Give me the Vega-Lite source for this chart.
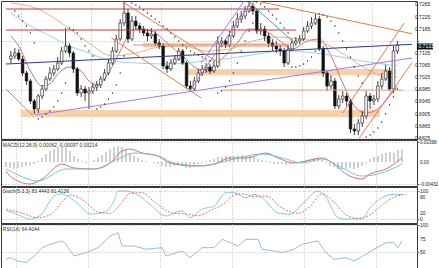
{
"$schema": "https://vega.github.io/schema/vega-lite/v6.json",
"padding": 0,
"spacing": 1,
"bounds": "flush",
"background": "white",
"resolve": {"scale": {"color": "independent", "strokeDash": "independent"}},
"config": {
 "view": {"stroke": "#3a3a3a", "strokeWidth": 1},
 "axis": {"labels": false, "tickSize": 2, "tickColor": "#666", "domain": false, "gridColor": "#b8b8b8", "gridDash": [1, 2], "gridWidth": 1},
 "text": {"font": "Liberation Sans"}
},
"datasets": {
 "candles": [
  {"i":0,"o":0.70866,"h":0.71130,"l":0.70734,"c":0.70965},
  {"i":1,"o":0.70965,"h":0.71229,"l":0.70866,"c":0.71064},
  {"i":2,"o":0.71064,"h":0.71196,"l":0.70800,"c":0.70866},
  {"i":3,"o":0.70866,"h":0.70965,"l":0.70305,"c":0.70404},
  {"i":4,"o":0.70404,"h":0.70470,"l":0.70008,"c":0.70140},
  {"i":5,"o":0.70140,"h":0.70206,"l":0.69381,"c":0.69480},
  {"i":6,"o":0.69480,"h":0.69546,"l":0.69051,"c":0.69216},
  {"i":7,"o":0.69216,"h":0.69711,"l":0.69084,"c":0.69645},
  {"i":8,"o":0.69645,"h":0.70008,"l":0.69546,"c":0.69876},
  {"i":9,"o":0.69876,"h":0.70305,"l":0.69810,"c":0.70206},
  {"i":10,"o":0.70206,"h":0.70602,"l":0.70140,"c":0.70404},
  {"i":11,"o":0.70404,"h":0.70668,"l":0.70305,"c":0.70536},
  {"i":12,"o":0.70536,"h":0.70932,"l":0.70470,"c":0.70734},
  {"i":13,"o":0.70734,"h":0.71262,"l":0.70668,"c":0.71130},
  {"i":14,"o":0.71130,"h":0.71889,"l":0.71064,"c":0.71295},
  {"i":15,"o":0.71295,"h":0.71394,"l":0.70932,"c":0.71064},
  {"i":16,"o":0.71064,"h":0.71130,"l":0.70404,"c":0.70536},
  {"i":17,"o":0.70536,"h":0.70602,"l":0.69645,"c":0.69744},
  {"i":18,"o":0.69744,"h":0.70008,"l":0.69612,"c":0.69876},
  {"i":19,"o":0.69876,"h":0.69975,"l":0.69480,"c":0.69744},
  {"i":20,"o":0.69744,"h":0.69942,"l":0.69216,"c":0.69810},
  {"i":21,"o":0.69810,"h":0.70074,"l":0.69711,"c":0.69942},
  {"i":22,"o":0.69942,"h":0.70140,"l":0.69810,"c":0.70008},
  {"i":23,"o":0.70008,"h":0.70305,"l":0.69909,"c":0.70206},
  {"i":24,"o":0.70206,"h":0.70536,"l":0.70140,"c":0.70404},
  {"i":25,"o":0.70404,"h":0.70866,"l":0.70338,"c":0.70734},
  {"i":26,"o":0.70734,"h":0.71262,"l":0.70668,"c":0.71130},
  {"i":27,"o":0.71130,"h":0.71658,"l":0.71064,"c":0.71526},
  {"i":28,"o":0.71526,"h":0.72186,"l":0.71460,"c":0.72054},
  {"i":29,"o":0.72054,"h":0.72747,"l":0.71955,"c":0.72384},
  {"i":30,"o":0.72384,"h":0.72516,"l":0.71394,"c":0.71526},
  {"i":31,"o":0.71526,"h":0.72285,"l":0.71460,"c":0.72120},
  {"i":32,"o":0.72120,"h":0.72285,"l":0.71856,"c":0.71955},
  {"i":33,"o":0.71955,"h":0.72054,"l":0.71724,"c":0.71856},
  {"i":34,"o":0.71856,"h":0.71955,"l":0.71625,"c":0.71724},
  {"i":35,"o":0.71724,"h":0.71856,"l":0.71460,"c":0.71625},
  {"i":36,"o":0.71625,"h":0.71889,"l":0.71526,"c":0.71691},
  {"i":37,"o":0.71691,"h":0.71790,"l":0.71295,"c":0.71394},
  {"i":38,"o":0.71394,"h":0.71526,"l":0.71196,"c":0.71295},
  {"i":39,"o":0.71295,"h":0.71394,"l":0.70536,"c":0.70635},
  {"i":40,"o":0.70635,"h":0.70800,"l":0.70404,"c":0.70536},
  {"i":41,"o":0.70536,"h":0.70866,"l":0.70470,"c":0.70734},
  {"i":42,"o":0.70734,"h":0.70998,"l":0.70668,"c":0.70866},
  {"i":43,"o":0.70866,"h":0.71229,"l":0.70800,"c":0.71130},
  {"i":44,"o":0.71130,"h":0.71196,"l":0.70668,"c":0.70734},
  {"i":45,"o":0.70734,"h":0.70800,"l":0.69876,"c":0.69975},
  {"i":46,"o":0.69975,"h":0.70140,"l":0.69777,"c":0.69876},
  {"i":47,"o":0.69876,"h":0.70272,"l":0.69810,"c":0.70140},
  {"i":48,"o":0.70140,"h":0.70536,"l":0.70074,"c":0.70404},
  {"i":49,"o":0.70404,"h":0.70668,"l":0.70305,"c":0.70536},
  {"i":50,"o":0.70536,"h":0.70734,"l":0.70404,"c":0.70602},
  {"i":51,"o":0.70602,"h":0.70701,"l":0.70371,"c":0.70470},
  {"i":52,"o":0.70470,"h":0.70800,"l":0.70404,"c":0.70635},
  {"i":53,"o":0.70635,"h":0.71625,"l":0.70569,"c":0.71394},
  {"i":54,"o":0.71394,"h":0.71592,"l":0.71262,"c":0.71460},
  {"i":55,"o":0.71460,"h":0.71526,"l":0.71229,"c":0.71328},
  {"i":56,"o":0.71328,"h":0.71790,"l":0.71262,"c":0.71625},
  {"i":57,"o":0.71625,"h":0.72120,"l":0.71559,"c":0.71955},
  {"i":58,"o":0.71955,"h":0.72384,"l":0.71889,"c":0.72186},
  {"i":59,"o":0.72186,"h":0.72450,"l":0.72054,"c":0.72285},
  {"i":60,"o":0.72285,"h":0.72615,"l":0.72186,"c":0.72450},
  {"i":61,"o":0.72450,"h":0.72747,"l":0.72384,"c":0.72615},
  {"i":62,"o":0.72615,"h":0.72714,"l":0.72318,"c":0.72450},
  {"i":63,"o":0.72450,"h":0.72516,"l":0.71691,"c":0.71790},
  {"i":64,"o":0.71790,"h":0.72054,"l":0.71658,"c":0.71856},
  {"i":65,"o":0.71856,"h":0.71955,"l":0.71460,"c":0.71625},
  {"i":66,"o":0.71625,"h":0.71724,"l":0.71262,"c":0.71394},
  {"i":67,"o":0.71394,"h":0.71526,"l":0.71130,"c":0.71295},
  {"i":68,"o":0.71295,"h":0.71460,"l":0.71064,"c":0.71196},
  {"i":69,"o":0.71196,"h":0.71328,"l":0.70965,"c":0.71130},
  {"i":70,"o":0.71130,"h":0.71229,"l":0.70602,"c":0.70734},
  {"i":71,"o":0.70734,"h":0.71328,"l":0.70668,"c":0.71196},
  {"i":72,"o":0.71196,"h":0.71526,"l":0.71130,"c":0.71394},
  {"i":73,"o":0.71394,"h":0.71592,"l":0.71295,"c":0.71460},
  {"i":74,"o":0.71460,"h":0.71658,"l":0.71361,"c":0.71526},
  {"i":75,"o":0.71526,"h":0.71922,"l":0.71460,"c":0.71790},
  {"i":76,"o":0.71790,"h":0.72120,"l":0.71724,"c":0.71955},
  {"i":77,"o":0.71955,"h":0.72252,"l":0.71856,"c":0.72054},
  {"i":78,"o":0.72054,"h":0.72351,"l":0.71988,"c":0.72186},
  {"i":79,"o":0.72186,"h":0.72285,"l":0.71130,"c":0.71196},
  {"i":80,"o":0.71196,"h":0.71295,"l":0.70272,"c":0.70404},
  {"i":81,"o":0.70404,"h":0.70470,"l":0.69810,"c":0.69975},
  {"i":82,"o":0.69975,"h":0.70338,"l":0.69876,"c":0.70140},
  {"i":83,"o":0.70140,"h":0.70239,"l":0.69216,"c":0.69315},
  {"i":84,"o":0.69315,"h":0.69678,"l":0.69216,"c":0.69546},
  {"i":85,"o":0.69546,"h":0.69810,"l":0.69414,"c":0.69645},
  {"i":86,"o":0.69645,"h":0.69744,"l":0.69315,"c":0.69480},
  {"i":87,"o":0.69480,"h":0.69546,"l":0.68424,"c":0.68556},
  {"i":88,"o":0.68556,"h":0.68721,"l":0.68358,"c":0.68490},
  {"i":89,"o":0.68490,"h":0.68886,"l":0.68358,"c":0.68754},
  {"i":90,"o":0.68754,"h":0.69150,"l":0.68622,"c":0.68985},
  {"i":91,"o":0.68985,"h":0.69810,"l":0.68886,"c":0.69645},
  {"i":92,"o":0.69645,"h":0.69744,"l":0.69216,"c":0.69480},
  {"i":93,"o":0.69480,"h":0.69678,"l":0.69348,"c":0.69546},
  {"i":94,"o":0.69546,"h":0.70140,"l":0.69447,"c":0.69975},
  {"i":95,"o":0.69975,"h":0.70404,"l":0.69876,"c":0.70206},
  {"i":96,"o":0.70206,"h":0.70668,"l":0.70140,"c":0.70470},
  {"i":97,"o":0.70470,"h":0.70602,"l":0.69810,"c":0.69876},
  {"i":98,"o":0.69876,"h":0.71295,"l":0.69744,"c":0.71130},
  {"i":99,"o":0.71130,"h":0.71460,"l":0.71031,"c":0.71328}
 ],
 "ma": [
  {"s":"fast","i":0,"p":0.71625},{"s":"fast","i":2,"p":0.71295},{"s":"fast","i":5,"p":0.70470},{"s":"fast","i":8,"p":0.69975},{"s":"fast","i":10,"p":0.70041},{"s":"fast","i":12,"p":0.70371},{"s":"fast","i":15,"p":0.70602},{"s":"fast","i":18,"p":0.70470},{"s":"fast","i":20,"p":0.70140},{"s":"fast","i":22,"p":0.70008},{"s":"fast","i":25,"p":0.70404},{"s":"fast","i":28,"p":0.71130},{"s":"fast","i":30,"p":0.71625},{"s":"fast","i":32,"p":0.71856},{"s":"fast","i":36,"p":0.71790},{"s":"fast","i":40,"p":0.71394},{"s":"fast","i":44,"p":0.70965},{"s":"fast","i":48,"p":0.70536},{"s":"fast","i":51,"p":0.70470},{"s":"fast","i":54,"p":0.70866},{"s":"fast","i":58,"p":0.71394},{"s":"fast","i":61,"p":0.71856},{"s":"fast","i":65,"p":0.71790},{"s":"fast","i":69,"p":0.71460},{"s":"fast","i":72,"p":0.71196},{"s":"fast","i":76,"p":0.71460},{"s":"fast","i":79,"p":0.71526},{"s":"fast","i":82,"p":0.70965},{"s":"fast","i":85,"p":0.70074},{"s":"fast","i":88,"p":0.69315},{"s":"fast","i":91,"p":0.69084},{"s":"fast","i":94,"p":0.69216},{"s":"fast","i":97,"p":0.69645},{"s":"fast","i":99,"p":0.69975},
  {"s":"mid","i":0,"p":0.72714},{"s":"mid","i":7,"p":0.72516},{"s":"mid","i":14,"p":0.71955},{"s":"mid","i":20,"p":0.71394},{"s":"mid","i":26,"p":0.70965},{"s":"mid","i":32,"p":0.71064},{"s":"mid","i":38,"p":0.71262},{"s":"mid","i":44,"p":0.71295},{"s":"mid","i":50,"p":0.71130},{"s":"mid","i":56,"p":0.71196},{"s":"mid","i":62,"p":0.71460},{"s":"mid","i":68,"p":0.71592},{"s":"mid","i":74,"p":0.71526},{"s":"mid","i":80,"p":0.71394},{"s":"mid","i":86,"p":0.70965},{"s":"mid","i":92,"p":0.70470},{"s":"mid","i":96,"p":0.70272},{"s":"mid","i":99,"p":0.70272},
  {"s":"slow","i":0,"p":0.72384},{"s":"slow","i":5,"p":0.71955},{"s":"slow","i":10,"p":0.71625},{"s":"slow","i":15,"p":0.71295},{"s":"slow","i":20,"p":0.71064},{"s":"slow","i":26,"p":0.70800},{"s":"slow","i":32,"p":0.70734},{"s":"slow","i":40,"p":0.70701},{"s":"slow","i":50,"p":0.70800},{"s":"slow","i":60,"p":0.70965},{"s":"slow","i":70,"p":0.71130},{"s":"slow","i":80,"p":0.71031},{"s":"slow","i":90,"p":0.70800},{"s":"slow","i":99,"p":0.70635}
 ],
 "sar": [
  {"i":1,"p":0.72450},{"i":2,"p":0.72285},{"i":3,"p":0.72120},{"i":4,"p":0.71955},{"i":5,"p":0.71724},{"i":6,"p":0.71394},
  {"i":7,"p":0.68886},{"i":8,"p":0.68952},{"i":9,"p":0.69051},{"i":10,"p":0.69150},{"i":11,"p":0.69282},{"i":12,"p":0.69480},{"i":13,"p":0.69744},{"i":14,"p":0.70074},
  {"i":15,"p":0.71889},{"i":16,"p":0.71823},{"i":17,"p":0.71724},{"i":18,"p":0.71526},{"i":19,"p":0.71295},{"i":20,"p":0.71130},{"i":21,"p":0.70965},
  {"i":22,"p":0.69216},{"i":23,"p":0.69282},{"i":24,"p":0.69381},{"i":25,"p":0.69546},{"i":26,"p":0.69744},{"i":27,"p":0.70008},{"i":28,"p":0.70404},{"i":29,"p":0.70965},
  {"i":31,"p":0.72714},{"i":32,"p":0.72648},{"i":33,"p":0.72582},{"i":34,"p":0.72483},{"i":35,"p":0.72384},{"i":36,"p":0.72285},{"i":37,"p":0.72186},{"i":38,"p":0.72087},{"i":39,"p":0.71955},{"i":40,"p":0.71856},{"i":41,"p":0.71724},{"i":42,"p":0.71592},{"i":43,"p":0.71460},{"i":44,"p":0.71328},{"i":45,"p":0.71229},{"i":46,"p":0.71130},{"i":47,"p":0.71064},{"i":48,"p":0.70998},{"i":49,"p":0.70932},{"i":50,"p":0.70866},{"i":51,"p":0.70800},
  {"i":53,"p":0.69744},{"i":54,"p":0.69810},{"i":55,"p":0.69942},{"i":56,"p":0.70140},{"i":57,"p":0.70404},{"i":58,"p":0.70734},{"i":59,"p":0.71130},{"i":60,"p":0.71460},{"i":61,"p":0.71790},{"i":62,"p":0.72054},
  {"i":63,"p":0.72747},{"i":64,"p":0.72681},{"i":65,"p":0.72582},{"i":66,"p":0.72450},{"i":67,"p":0.72318},{"i":68,"p":0.72186},{"i":69,"p":0.72054},{"i":70,"p":0.71889},{"i":71,"p":0.71724},
  {"i":72,"p":0.70602},{"i":73,"p":0.70602},{"i":74,"p":0.70635},{"i":75,"p":0.70701},{"i":76,"p":0.70800},{"i":77,"p":0.70932},{"i":78,"p":0.71130},
  {"i":79,"p":0.72351},{"i":80,"p":0.72318},{"i":81,"p":0.72252},{"i":82,"p":0.72120},{"i":83,"p":0.71955},{"i":84,"p":0.71724},{"i":85,"p":0.71460},{"i":86,"p":0.71196},{"i":87,"p":0.70932},{"i":88,"p":0.70602},{"i":89,"p":0.70305},{"i":90,"p":0.70074},
  {"i":91,"p":0.68292},{"i":92,"p":0.68358},{"i":93,"p":0.68457},{"i":94,"p":0.68589},{"i":95,"p":0.68787},{"i":96,"p":0.69051},{"i":97,"p":0.69348},{"i":98,"p":0.69612},{"i":99,"p":0.69876}
 ],
 "lines": [
  {"k":"red","i":-1.25,"p":0.72516,"i2":68.75,"p2":0.72516},
  {"k":"red","i":-1.25,"p":0.71823,"i2":73,"p2":0.71823},
  {"k":"pink","i":31.25,"p":0.71328,"i2":71.25,"p2":0.71328},
  {"k":"blue","i":-1.25,"p":0.70701,"i2":102.75,"p2":0.71350},
  {"k":"violet","i":6.25,"p":0.69018,"i2":102.75,"p2":0.70900},
  {"k":"violet","i":45.75,"p":0.69810,"i2":61.75,"p2":0.72780},
  {"k":"violet","i":48.75,"p":0.70734,"i2":59.75,"p2":0.72780},
  {"k":"teal","i":61.25,"p":0.72714,"i2":73,"p2":0.71361},
  {"k":"orange","i":28.25,"p":0.72780,"i2":53.75,"p2":0.70701},
  {"k":"orange","i":25.75,"p":0.71559,"i2":48.75,"p2":0.69579},
  {"k":"orange","i":63,"p":0.72780,"i2":102.75,"p2":0.71700},
  {"k":"orange","i":85,"p":0.69084,"i2":100.75,"p2":0.72054},
  {"k":"orange","i":89.25,"p":0.68259,"i2":102.75,"p2":0.70750},
  {"k":"orange","i":-1.25,"p":0.69876,"i2":5.75,"p2":0.68985},
  {"k":"salmon","i":53.75,"p":0.69843,"i2":100.5,"p2":0.69843}
 ],
 "zones": [
  {"i":2.5,"i2":94.5,"p":0.69183,"p2":0.68952},
  {"i":45,"i2":98.75,"p":0.70536,"p2":0.70338},
  {"i":33.75,"i2":71.25,"p":0.71394,"p2":0.71262}
 ],
 "hist": [
  {"i":0,"h":-0.0010},{"i":1,"h":-0.0012},{"i":2,"h":-0.0014},{"i":3,"h":-0.0012},{"i":4,"h":-0.0010},{"i":5,"h":-0.0008},{"i":6,"h":-0.0006},{"i":7,"h":-0.0004},{"i":8,"h":0.0002},{"i":9,"h":0.0008},
  {"i":10,"h":0.0016},{"i":11,"h":0.0022},{"i":12,"h":0.0026},{"i":13,"h":0.0030},{"i":14,"h":0.0030},{"i":15,"h":0.0028},{"i":16,"h":0.0022},{"i":17,"h":0.0012},{"i":18,"h":0.0006},{"i":19,"h":0.0002},
  {"i":20,"h":-0.0002},{"i":21,"h":0},{"i":22,"h":0.0004},{"i":23,"h":0.0008},{"i":24,"h":0.0014},{"i":25,"h":0.0020},{"i":26,"h":0.0026},{"i":27,"h":0.0030},{"i":28,"h":0.0032},{"i":29,"h":0.0030},
  {"i":30,"h":0.0024},{"i":31,"h":0.0018},{"i":32,"h":0.0012},{"i":33,"h":0.0008},{"i":34,"h":0.0004},{"i":35,"h":0.0002},{"i":36,"h":0},{"i":37,"h":-0.0002},{"i":38,"h":-0.0004},{"i":39,"h":-0.0008},
  {"i":40,"h":-0.0010},{"i":41,"h":-0.0010},{"i":42,"h":-0.0008},{"i":43,"h":-0.0006},{"i":44,"h":-0.0008},{"i":45,"h":-0.0012},{"i":46,"h":-0.0012},{"i":47,"h":-0.0008},{"i":48,"h":-0.0004},{"i":49,"h":-0.0002},
  {"i":50,"h":0.0002},{"i":51,"h":0.0004},{"i":52,"h":0.0006},{"i":53,"h":0.0010},{"i":54,"h":0.0010},{"i":55,"h":0.0012},{"i":56,"h":0.0012},{"i":57,"h":0.0012},{"i":58,"h":0.0014},{"i":59,"h":0.0014},
  {"i":60,"h":0.0012},{"i":61,"h":0.0012},{"i":62,"h":0.0010},{"i":63,"h":0.0006},{"i":64,"h":0.0004},{"i":65,"h":0.0002},{"i":66,"h":-0.0002},{"i":67,"h":-0.0004},{"i":68,"h":-0.0004},{"i":69,"h":-0.0004},
  {"i":70,"h":-0.0006},{"i":71,"h":-0.0004},{"i":72,"h":-0.0002},{"i":73,"h":0},{"i":74,"h":0.0002},{"i":75,"h":0.0004},{"i":76,"h":0.0006},{"i":77,"h":0.0008},{"i":78,"h":0.0008},{"i":79,"h":0.0004},
  {"i":80,"h":-0.0002},{"i":81,"h":-0.0008},{"i":82,"h":-0.0010},{"i":83,"h":-0.0014},{"i":84,"h":-0.0014},{"i":85,"h":-0.0014},{"i":86,"h":-0.0012},{"i":87,"h":-0.0014},{"i":88,"h":-0.0012},{"i":89,"h":-0.0008},
  {"i":90,"h":-0.0002},{"i":91,"h":0.0006},{"i":92,"h":0.0010},{"i":93,"h":0.0012},{"i":94,"h":0.0016},{"i":95,"h":0.0018},{"i":96,"h":0.0020},{"i":97,"h":0.0018},{"i":98,"h":0.0024},{"i":99,"h":0.0026}
 ],
 "macd": [
  {"s":"macd","i":0,"v":-0.0018},{"s":"macd","i":1,"v":-0.0028},{"s":"macd","i":6,"v":-0.0044},{"s":"macd","i":9,"v":-0.0034},{"s":"macd","i":14,"v":-0.0004},{"s":"macd","i":17,"v":-0.0012},{"s":"macd","i":22,"v":-0.0014},{"s":"macd","i":26,"v":-0.0002},{"s":"macd","i":29,"v":0.0022},{"s":"macd","i":31,"v":0.0026},{"s":"macd","i":34,"v":0.0018},{"s":"macd","i":38,"v":0.0012},{"s":"macd","i":41,"v":-0.0002},{"s":"macd","i":47,"v":-0.0008},{"s":"macd","i":52,"v":-0.0004},{"s":"macd","i":56,"v":0.0008},{"s":"macd","i":60,"v":0.0008},{"s":"macd","i":65,"v":0.0018},{"s":"macd","i":68,"v":0.0008},{"s":"macd","i":72,"v":-0.0002},{"s":"macd","i":75,"v":0.0002},{"s":"macd","i":79,"v":0.0008},{"s":"macd","i":82,"v":-0.0004},{"s":"macd","i":85,"v":-0.0024},{"s":"macd","i":89,"v":-0.0034},{"s":"macd","i":91,"v":-0.0024},{"s":"macd","i":95,"v":-0.0014},{"s":"macd","i":99,"v":0.0008},
  {"s":"signal","i":0,"v":-0.0014},{"s":"signal","i":2,"v":-0.0022},{"s":"signal","i":8,"v":-0.0038},{"s":"signal","i":15,"v":-0.0014},{"s":"signal","i":22,"v":-0.0014},{"s":"signal","i":28,"v":0.0006},{"s":"signal","i":32,"v":0.0018},{"s":"signal","i":38,"v":0.0012},{"s":"signal","i":42,"v":-0.0002},{"s":"signal","i":49,"v":-0.0008},{"s":"signal","i":57,"v":0.0006},{"s":"signal","i":64,"v":0.0016},{"s":"signal","i":70,"v":0.0006},{"s":"signal","i":74,"v":-0.0002},{"s":"signal","i":79,"v":0.0006},{"s":"signal","i":84,"v":-0.0012},{"s":"signal","i":89,"v":-0.0028},{"s":"signal","i":93,"v":-0.0024},{"s":"signal","i":99,"v":-0.0004}
 ],
 "stoch": [
  {"s":"K","i":0,"v":29},{"s":"K","i":2,"v":22},{"s":"K","i":6,"v":0},{"s":"K","i":9,"v":18},{"s":"K","i":11,"v":64},{"s":"K","i":13,"v":89},{"s":"K","i":14,"v":89},{"s":"K","i":18,"v":54},{"s":"K","i":21,"v":18},{"s":"K","i":24,"v":22},{"s":"K","i":27,"v":64},{"s":"K","i":28,"v":100},{"s":"K","i":30,"v":100},{"s":"K","i":34,"v":76},{"s":"K","i":36,"v":52},{"s":"K","i":40,"v":11},{"s":"K","i":44,"v":29},{"s":"K","i":46,"v":5},{"s":"K","i":49,"v":35},{"s":"K","i":52,"v":46},{"s":"K","i":55,"v":94},{"s":"K","i":57,"v":94},{"s":"K","i":60,"v":76},{"s":"K","i":62,"v":88},{"s":"K","i":64,"v":76},{"s":"K","i":68,"v":22},{"s":"K","i":71,"v":17},{"s":"K","i":74,"v":52},{"s":"K","i":78,"v":100},{"s":"K","i":80,"v":76},{"s":"K","i":83,"v":5},{"s":"K","i":85,"v":0},{"s":"K","i":89,"v":2},{"s":"K","i":91,"v":40},{"s":"K","i":94,"v":76},{"s":"K","i":97,"v":88},{"s":"K","i":99,"v":88},
  {"s":"D","i":0,"v":35},{"s":"D","i":3,"v":26},{"s":"D","i":8,"v":5},{"s":"D","i":11,"v":15},{"s":"D","i":14,"v":60},{"s":"D","i":16,"v":86},{"s":"D","i":19,"v":70},{"s":"D","i":23,"v":25},{"s":"D","i":26,"v":20},{"s":"D","i":29,"v":60},{"s":"D","i":31,"v":92},{"s":"D","i":34,"v":94},{"s":"D","i":37,"v":62},{"s":"D","i":42,"v":20},{"s":"D","i":45,"v":18},{"s":"D","i":48,"v":12},{"s":"D","i":51,"v":30},{"s":"D","i":54,"v":50},{"s":"D","i":57,"v":85},{"s":"D","i":59,"v":90},{"s":"D","i":62,"v":80},{"s":"D","i":65,"v":82},{"s":"D","i":69,"v":40},{"s":"D","i":73,"v":20},{"s":"D","i":76,"v":45},{"s":"D","i":79,"v":90},{"s":"D","i":82,"v":60},{"s":"D","i":85,"v":15},{"s":"D","i":88,"v":2},{"s":"D","i":91,"v":15},{"s":"D","i":94,"v":50},{"s":"D","i":97,"v":78},{"s":"D","i":100,"v":88}
 ],
 "rsi": [
  {"i":0,"v":37.4},{"i":1,"v":40.3},{"i":3,"v":34.3},{"i":5,"v":31.2},{"i":7,"v":43.4},{"i":9,"v":58.6},{"i":11,"v":64.8},{"i":14,"v":70.8},{"i":15,"v":64.8},{"i":17,"v":43.4},{"i":20,"v":49.4},{"i":23,"v":58.6},{"i":26,"v":79.9},{"i":28,"v":85.9},{"i":29,"v":61.7},{"i":32,"v":61.7},{"i":35,"v":55.7},{"i":39,"v":58.6},{"i":40,"v":43.4},{"i":44,"v":52.5},{"i":46,"v":40.3},{"i":49,"v":58.6},{"i":52,"v":58.6},{"i":54,"v":73.9},{"i":56,"v":67.7},{"i":58,"v":61.7},{"i":60,"v":73.9},{"i":63,"v":73.9},{"i":64,"v":55.7},{"i":67,"v":52.5},{"i":69,"v":49.4},{"i":72,"v":55.7},{"i":74,"v":64.8},{"i":78,"v":70.8},{"i":80,"v":49.4},{"i":82,"v":37.4},{"i":85,"v":40.3},{"i":87,"v":34.3},{"i":90,"v":46.5},{"i":92,"v":55.7},{"i":95,"v":67.7},{"i":97,"v":67.7},{"i":98,"v":58.6},{"i":99,"v":70.8}
 ]
},
"vconcat": [
 {
  "width": 416, "height": 138,
  "resolve": {"scale": {"color": "independent"}},
  "layer": [
   {"data": {"name": "zones"}, "mark": {"type": "rect", "fill": "#f8cba3", "opacity": 0.9},
    "encoding": {
     "x": {"field": "i", "type": "quantitative", "title": null, "scale": {"domain": [-1.25, 102.75], "nice": false, "zero": false}, "axis": {"values": [2.5,7,11.5,16,20.5,25,29.5,34,38.5,43,47.5,52,56.5,61,65.5,70,74.5,79,83.5,88,92.5,97,101.5], "labels": false, "ticks": false, "grid": true, "title": null}},
     "x2": {"field": "i2"},
     "y": {"field": "p", "type": "quantitative", "title": null, "scale": {"domain": [0.68226, 0.7278], "nice": false, "zero": false}, "axis": {"orient": "right", "values": [0.7265,0.7225,0.7185,0.7145,0.7105,0.7065,0.7025,0.6985,0.6945,0.6905,0.6865,0.6825], "labels": false, "grid": true, "title": null}},
     "y2": {"field": "p2"}
    }},
   {"data": {"name": "ma"}, "mark": {"type": "line", "strokeWidth": 0.9, "interpolate": "monotone"},
    "encoding": {
     "x": {"field": "i", "type": "quantitative", "title": null, "scale": {"domain": [-1.25, 102.75], "nice": false, "zero": false}},
     "y": {"field": "p", "type": "quantitative", "title": null, "scale": {"domain": [0.68226, 0.7278], "nice": false, "zero": false}},
     "color": {"field": "s", "type": "nominal", "scale": {"domain": ["fast", "mid", "slow"], "range": ["#c8606a", "#d9aa7c", "#8fd0dd"]}, "legend": null}
    }},
   {"data": {"name": "candles"}, "mark": {"type": "rule", "color": "#111", "strokeWidth": 0.8},
    "encoding": {
     "x": {"field": "i", "type": "quantitative", "title": null, "scale": {"domain": [-1.25, 102.75], "nice": false, "zero": false}},
     "y": {"field": "l", "type": "quantitative", "title": null, "scale": {"domain": [0.68226, 0.7278], "nice": false, "zero": false}},
     "y2": {"field": "h"}
    }},
   {"data": {"name": "candles"}, "mark": {"type": "bar", "size": 2.6, "stroke": "#111", "strokeWidth": 0.6},
    "encoding": {
     "x": {"field": "i", "type": "quantitative", "title": null, "scale": {"domain": [-1.25, 102.75], "nice": false, "zero": false}},
     "y": {"field": "o", "type": "quantitative", "title": null, "scale": {"domain": [0.68226, 0.7278], "nice": false, "zero": false}},
     "y2": {"field": "c"},
     "fill": {"condition": {"test": "datum.c < datum.o", "value": "#111"}, "value": "white"}
    }},
   {"data": {"name": "lines"}, "mark": {"type": "rule", "strokeWidth": 1},
    "encoding": {
     "x": {"field": "i", "type": "quantitative", "title": null, "scale": {"domain": [-1.25, 102.75], "nice": false, "zero": false}},
     "x2": {"field": "i2"},
     "y": {"field": "p", "type": "quantitative", "title": null, "scale": {"domain": [0.68226, 0.7278], "nice": false, "zero": false}},
     "y2": {"field": "p2"},
     "color": {"field": "k", "type": "nominal", "scale": {"domain": ["red", "pink", "blue", "violet", "teal", "orange", "salmon"], "range": ["#c23b3b", "#e48a8a", "#2b3990", "#a77bd8", "#2ab3b0", "#de7d4f", "#e0a080"]}, "legend": null}
    }},
   {"data": {"name": "sar"}, "mark": {"type": "circle", "size": 2, "color": "#222", "opacity": 1},
    "encoding": {
     "x": {"field": "i", "type": "quantitative", "title": null, "scale": {"domain": [-1.25, 102.75], "nice": false, "zero": false}},
     "y": {"field": "p", "type": "quantitative", "title": null, "scale": {"domain": [0.68226, 0.7278], "nice": false, "zero": false}}
    }},
   {"data": {"values": [{"p": 0.7265, "t": "0.7265"}, {"p": 0.7225, "t": "0.7225"}, {"p": 0.7185, "t": "0.7185"}, {"p": 0.7105, "t": "0.7105"}, {"p": 0.7065, "t": "0.7065"}, {"p": 0.7025, "t": "0.7025"}, {"p": 0.6985, "t": "0.6985"}, {"p": 0.6945, "t": "0.6945"}, {"p": 0.6905, "t": "0.6905"}, {"p": 0.6865, "t": "0.6865"}, {"p": 0.6825, "t": "0.6825"}]},
    "mark": {"type": "text", "font": "Liberation Sans", "fontSize": 5, "color": "#222", "align": "left", "baseline": "middle", "dy": -0.5},
    "encoding": {
     "x": {"datum": 103.5, "type": "quantitative", "scale": {"domain": [-1.25, 102.75], "nice": false, "zero": false}},
     "y": {"field": "p", "type": "quantitative", "title": null, "scale": {"domain": [0.68226, 0.7278], "nice": false, "zero": false}},
     "text": {"field": "t"}
    }},
   {"data": {"values": [{"i": 104.0, "i2": 108.1, "p": 0.71378, "p2": 0.7118}]}, "mark": {"type": "rect", "fill": "#111"},
    "encoding": {
     "x": {"field": "i", "type": "quantitative", "title": null, "scale": {"domain": [-1.25, 102.75], "nice": false, "zero": false}},
     "x2": {"field": "i2"},
     "y": {"field": "p", "type": "quantitative", "title": null, "scale": {"domain": [0.68226, 0.7278], "nice": false, "zero": false}},
     "y2": {"field": "p2"}
    }},
   {"data": {"values": [{"i": 104.4, "p": 0.71279, "t": "0.7133"}]}, "mark": {"type": "text", "fontSize": 5, "color": "white", "align": "left", "baseline": "middle"},
    "encoding": {
     "x": {"field": "i", "type": "quantitative", "title": null, "scale": {"domain": [-1.25, 102.75], "nice": false, "zero": false}},
     "y": {"field": "p", "type": "quantitative", "title": null, "scale": {"domain": [0.68226, 0.7278], "nice": false, "zero": false}},
     "text": {"field": "t"}
    }}
  ]
 },
 {
  "width": 416, "height": 46,
  "layer": [
   {"data": {"name": "hist"}, "mark": {"type": "rule", "color": "#bdbdbd", "strokeWidth": 1.4},
    "encoding": {
     "x": {"field": "i", "type": "quantitative", "title": null, "scale": {"domain": [-1.25, 102.75], "nice": false, "zero": false}, "axis": {"values": [2.5,7,11.5,16,20.5,25,29.5,34,38.5,43,47.5,52,56.5,61,65.5,70,74.5,79,83.5,88,92.5,97,101.5], "labels": false, "ticks": false, "grid": true, "title": null}},
     "y": {"field": "h", "type": "quantitative", "title": null, "scale": {"domain": [-0.0048, 0.0044], "nice": false, "zero": false}, "axis": {"orient": "right", "values": [0.00398, 0, -0.00432], "labels": false, "grid": true, "title": null}},
     "y2": {"datum": 0}
    }},
   {"data": {"name": "macd"}, "mark": {"type": "line", "strokeWidth": 0.9, "interpolate": "monotone"},
    "encoding": {
     "x": {"field": "i", "type": "quantitative", "title": null, "scale": {"domain": [-1.25, 102.75], "nice": false, "zero": false}},
     "y": {"field": "v", "type": "quantitative", "title": null, "scale": {"domain": [-0.0048, 0.0044], "nice": false, "zero": false}},
     "color": {"field": "s", "type": "nominal", "scale": {"domain": ["macd", "signal"], "range": ["#d9606a", "#5fc4d6"]}, "legend": null}
    }},
   {"data": {"values": [{"v": 0.00398, "t": "0.00398"}, {"v": 0, "t": "0.00"}, {"v": -0.00432, "t": "-0.00432"}]},
    "mark": {"type": "text", "font": "Liberation Sans", "fontSize": 4.6, "color": "#222", "align": "left", "baseline": "middle", "dy": 1},
    "encoding": {
     "x": {"datum": 103.5, "type": "quantitative", "scale": {"domain": [-1.25, 102.75], "nice": false, "zero": false}},
     "y": {"field": "v", "type": "quantitative", "title": null, "scale": {"domain": [-0.0048, 0.0044], "nice": false, "zero": false}},
     "text": {"field": "t"}
    }},
   {"data": {"values": [{"i": -0.8, "v": 0.0034, "t": "MACD(12,26,9) 0.00062 -0.00097 0.00214"}]}, "mark": {"type": "text", "fontSize": 5, "color": "#333", "align": "left", "baseline": "middle"},
    "encoding": {
     "x": {"field": "i", "type": "quantitative", "title": null, "scale": {"domain": [-1.25, 102.75], "nice": false, "zero": false}},
     "y": {"field": "v", "type": "quantitative", "title": null, "scale": {"domain": [-0.0048, 0.0044], "nice": false, "zero": false}},
     "text": {"field": "t"}
    }}
  ]
 },
 {
  "width": 416, "height": 36,
  "layer": [
   {"data": {"name": "stoch"}, "mark": {"type": "line", "strokeWidth": 0.9, "interpolate": "monotone"},
    "encoding": {
     "x": {"field": "i", "type": "quantitative", "title": null, "scale": {"domain": [-1.25, 102.75], "nice": false, "zero": false}, "axis": {"values": [2.5,7,11.5,16,20.5,25,29.5,34,38.5,43,47.5,52,56.5,61,65.5,70,74.5,79,83.5,88,92.5,97,101.5], "labels": false, "ticks": false, "grid": true, "title": null}},
     "y": {"field": "v", "type": "quantitative", "title": null, "scale": {"domain": [-14.3, 114.3], "nice": false, "zero": false}, "axis": {"orient": "right", "values": [0, 20, 80, 100], "labels": false, "grid": true, "title": null}},
     "color": {"field": "s", "type": "nominal", "scale": {"domain": ["K", "D"], "range": ["#6cc0d4", "#d9606a"]}, "legend": null},
     "strokeDash": {"field": "s", "type": "nominal", "scale": {"domain": ["K", "D"], "range": [[1, 0], [2, 1.5]]}, "legend": null}
    }},
   {"data": {"values": [{"v": 100, "t": "100"}, {"v": 80, "t": "80"}, {"v": 20, "t": "20"}, {"v": 0, "t": "0"}]},
    "mark": {"type": "text", "font": "Liberation Sans", "fontSize": 5, "color": "#222", "align": "left", "baseline": "middle"},
    "encoding": {
     "x": {"datum": 103.5, "type": "quantitative", "scale": {"domain": [-1.25, 102.75], "nice": false, "zero": false}},
     "y": {"field": "v", "type": "quantitative", "title": null, "scale": {"domain": [-14.3, 114.3], "nice": false, "zero": false}},
     "text": {"field": "t"}
    }},
   {"data": {"values": [{"i": -0.8, "v": 99, "t": "Stoch(5,3,3) 83.4443 81.4126"}]}, "mark": {"type": "text", "fontSize": 5, "color": "#333", "align": "left", "baseline": "middle"},
    "encoding": {
     "x": {"field": "i", "type": "quantitative", "title": null, "scale": {"domain": [-1.25, 102.75], "nice": false, "zero": false}},
     "y": {"field": "v", "type": "quantitative", "title": null, "scale": {"domain": [-14.3, 114.3], "nice": false, "zero": false}},
     "text": {"field": "t"}
    }}
  ]
 },
 {
  "width": 416, "height": 44,
  "layer": [
   {"data": {"name": "rsi"}, "mark": {"type": "line", "strokeWidth": 0.9, "color": "#8bb5da"},
    "encoding": {
     "x": {"field": "i", "type": "quantitative", "title": null, "scale": {"domain": [-1.25, 102.75], "nice": false, "zero": false}, "axis": {"values": [2.5,7,11.5,16,20.5,25,29.5,34,38.5,43,47.5,52,56.5,61,65.5,70,74.5,79,83.5,88,92.5,97,101.5], "labels": false, "ticks": false, "grid": true, "title": null}},
     "y": {"field": "v", "type": "quantitative", "title": null, "scale": {"domain": [21.5, 101.8], "nice": false, "zero": false}, "axis": {"orient": "right", "values": [50, 75, 100], "labels": false, "grid": true, "title": null}}
    }},
   {"data": {"values": [{"v": 100, "t": "100"}, {"v": 75, "t": "75"}, {"v": 50, "t": "50"}]},
    "mark": {"type": "text", "font": "Liberation Sans", "fontSize": 5, "color": "#222", "align": "left", "baseline": "middle"},
    "encoding": {
     "x": {"datum": 103.5, "type": "quantitative", "scale": {"domain": [-1.25, 102.75], "nice": false, "zero": false}},
     "y": {"field": "v", "type": "quantitative", "title": null, "scale": {"domain": [21.5, 101.8], "nice": false, "zero": false}},
     "text": {"field": "t"}
    }},
   {"data": {"values": [{"i": -0.8, "v": 93, "t": "RSI(14) 64.4044"}]}, "mark": {"type": "text", "fontSize": 5, "color": "#333", "align": "left", "baseline": "middle"},
    "encoding": {
     "x": {"field": "i", "type": "quantitative", "title": null, "scale": {"domain": [-1.25, 102.75], "nice": false, "zero": false}},
     "y": {"field": "v", "type": "quantitative", "title": null, "scale": {"domain": [21.5, 101.8], "nice": false, "zero": false}},
     "text": {"field": "t"}
    }}
  ]
 }
]
}
